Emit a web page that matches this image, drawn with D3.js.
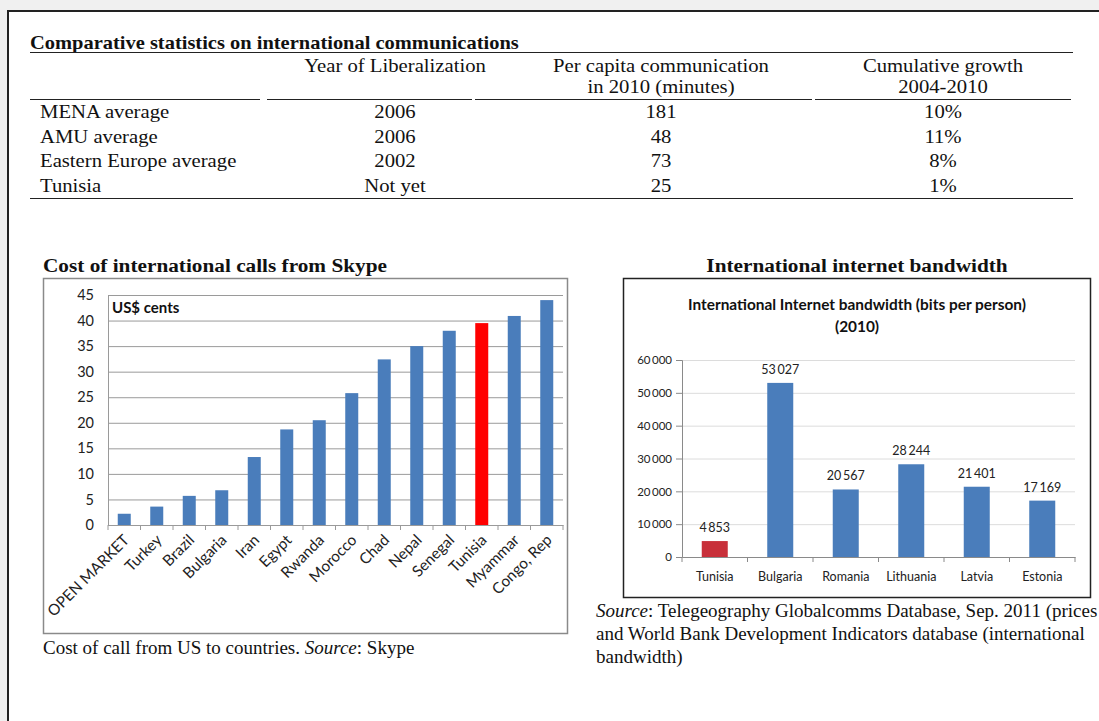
<!DOCTYPE html>
<html><head><meta charset="utf-8">
<script src="https://cdn.jsdelivr.net/npm/d3@7/dist/d3.min.js"></script>
<style>
html,body{margin:0;padding:0;background:#f0f0f0;}
svg{display:block;}
</style></head>
<body>
<svg id="c" width="1099" height="721"></svg>
<script>
// ---------- data ----------
const tableTitle = "Comparative statistics on international communications";
const rowLabels = ["MENA average", "AMU average", "Eastern Europe average", "Tunisia"];
const yearLib = ["2006", "2006", "2002", "Not yet"];
const perCapita = [181, 48, 73, 25];
const growth = ["10%", "11%", "8%", "1%"];

const skypeCountries = ["OPEN MARKET","Turkey","Brazil","Bulgaria","Iran","Egypt","Rwanda","Morocco","Chad","Nepal","Senegal","Tunisia","Myammar","Congo, Rep"];
const skypeCost = [2.2, 3.6, 5.7, 6.8, 13.3, 18.7, 20.5, 25.8, 32.4, 35.0, 38.0, 39.5, 40.9, 44.0];
const skypeTicks = [0,5,10,15,20,25,30,35,40,45];

const bwCountries = ["Tunisia","Bulgaria","Romania","Lithuania","Latvia","Estonia"];
const bwBits = [4853, 53027, 20567, 28244, 21401, 17169];
const bwTicks = [0,10000,20000,30000,40000,50000,60000];

const serif = "'Liberation Serif','Times New Roman',serif";
const sans = "Lato,'Open Sans',sans-serif";
const blue = "#4a7dbb", red = "#ff0000", red2 = "#c8303a";

const svg = d3.select("#c");

// stretched serif text helper
function stext(parent, x, y, str, size, opts) {
  opts = opts || {};
  const t = parent.append("text")
    .attr("transform", `translate(${x},${y}) scale(${opts.sx || 1},1)`)
    .attr("font-family", serif).attr("font-size", size).attr("fill", "#111")
    .attr("text-anchor", opts.anchor || "start");
  if (opts.bold) t.attr("font-weight", "bold");
  t.text(str);
  return t;
}

// page
svg.append("rect").attr("x",8).attr("y",11).attr("width",1200).attr("height",800).attr("fill","#fff");
svg.append("path").attr("d","M8,721V11H1099").attr("fill","none").attr("stroke","#222").attr("stroke-width",2);

// ---------- table ----------
const T = svg.append("g");
stext(T, 30, 49, tableTitle, 17.8, {bold:true, sx:1.15});
T.append("line").attr("x1",30).attr("x2",1073).attr("y1",52.5).attr("y2",52.5).attr("stroke","#222").attr("stroke-width",1.2);
const colX = [395, 661, 943];
const seg = [[30,260],[267,472],[475,812],[815,1071]];
seg.forEach(s=>T.append("line").attr("x1",s[0]).attr("x2",s[1]).attr("y1",99.5).attr("y2",99.5).attr("stroke","#222").attr("stroke-width",1.2));
T.append("line").attr("x1",30).attr("x2",1073).attr("y1",198.5).attr("y2",198.5).attr("stroke","#222").attr("stroke-width",1.2);
const hdr = [["Year of Liberalization"],["Per capita communication","in 2010 (minutes)"],["Cumulative growth","2004-2010"]];
hdr.forEach((lines,i)=>lines.forEach((l,j)=>stext(T, colX[i], 72+j*21, l, 18, {sx:1.15, anchor:"middle"})));
const rowY = d3.scaleBand().domain(rowLabels).range([100,198]);
rowLabels.forEach((r,i)=>{
  const y = rowY(r)+rowY.bandwidth()/2+6;
  stext(T, 40, y, r, 18, {sx:1.15});
  [yearLib[i], perCapita[i], growth[i]].forEach((v,k)=>stext(T, colX[k], y, v, 18, {sx:1.15, anchor:"middle"}));
});

// ---------- left chart ----------
const L = svg.append("g");
stext(L, 43, 272, "Cost of international calls from Skype", 19, {bold:true, sx:1.12});
L.append("rect").attr("x",43.5).attr("y",278.5).attr("width",524).attr("height",355).attr("fill","#fff").attr("stroke","#8a8a8a").attr("stroke-width",1.5);
const x1 = d3.scaleBand().domain(skypeCountries).range([108,563]);
const y1 = d3.scaleLinear().domain([0,45]).range([525,295]);
L.append("g").selectAll("line").data(skypeTicks).join("line")
 .attr("x1",108).attr("x2",563).attr("y1",d=>y1(d)+.5).attr("y2",d=>y1(d)+.5).attr("stroke","#9a9a9a").attr("stroke-width",1);
const ya1 = L.append("g").attr("transform","translate(108,0)").call(d3.axisLeft(y1).tickValues(skypeTicks).tickSize(0).tickPadding(14));
ya1.select(".domain").attr("stroke","#9a9a9a");
ya1.selectAll("text").attr("font-family",sans).attr("font-size",14.5).attr("fill","#222");
const xa1 = L.append("g").attr("transform","translate(0,525)").call(d3.axisBottom(x1).tickSize(0).tickFormat(""));
xa1.select(".domain").attr("stroke","#9a9a9a");
L.append("g").selectAll("line").data(skypeCountries.concat(["__end"])).join("line")
 .attr("x1",(d,i)=>108+i*x1.step()).attr("x2",(d,i)=>108+i*x1.step()).attr("y1",525).attr("y2",530).attr("stroke","#9a9a9a");
L.selectAll("rect.bar").data(skypeCountries).join("rect").attr("class","bar")
 .attr("x",d=>x1(d)+x1.bandwidth()/2-6.5).attr("width",13)
 .attr("y",(d,i)=>y1(skypeCost[i])).attr("height",(d,i)=>y1(0)-y1(skypeCost[i]))
 .attr("fill",d=>d==="Tunisia"?red:blue);
L.selectAll("text.xl").data(skypeCountries).join("text").attr("class","xl")
 .attr("transform",d=>`translate(${x1(d)+x1.bandwidth()/2+6},${541}) rotate(-45)`)
 .attr("text-anchor","end").attr("font-family",sans).attr("font-size",15.3).attr("fill","#222").text(d=>d);
L.append("text").attr("x",112).attr("y",313).attr("font-family",sans).attr("font-weight","bold").attr("font-size",15).attr("fill","#111").text("US$ cents");
const cap = L.append("text").attr("x",43).attr("y",654).attr("font-family",serif).attr("font-size",19).attr("fill","#111");
cap.append("tspan").text("Cost of call from US to countries. ");
cap.append("tspan").attr("font-style","italic").text("Source");
cap.append("tspan").text(": Skype");

// ---------- right chart ----------
const R = svg.append("g");
stext(R, 857, 272, "International internet bandwidth", 19, {bold:true, sx:1.12, anchor:"middle"});
R.append("rect").attr("x",623.5).attr("y",278.5).attr("width",467).attr("height",319).attr("fill","#fff").attr("stroke","#222").attr("stroke-width",1.5);
R.append("text").attr("x",857).attr("y",310).attr("text-anchor","middle").attr("font-family",sans).attr("font-weight","bold").attr("font-size",15.4).attr("fill","#111").text("International Internet bandwidth (bits per person)");
R.append("text").attr("x",857).attr("y",332).attr("text-anchor","middle").attr("font-family",sans).attr("font-weight","bold").attr("font-size",15.4).attr("fill","#111").text("(2010)");
const x2 = d3.scaleBand().domain(bwCountries).range([682,1075]);
const y2 = d3.scaleLinear().domain([0,60000]).range([557,360]);
R.append("g").selectAll("line").data(bwTicks.slice(1)).join("line")
 .attr("x1",682).attr("x2",1075).attr("y1",d=>y2(d)+.5).attr("y2",d=>y2(d)+.5).attr("stroke","#dcdcdc");
const fmt = d=>d3.format(",")(d).replace(/,/g,"\u2009");
const ya2 = R.append("g").attr("transform","translate(682,0)").call(d3.axisLeft(y2).tickValues(bwTicks).tickSize(6).tickPadding(4).tickFormat(fmt));
ya2.selectAll("line,.domain").attr("stroke","#8a8a8a");
ya2.selectAll("text").attr("font-family",sans).attr("font-size",11.5).attr("fill","#222");
const xa2 = R.append("g").attr("transform","translate(0,557)").call(d3.axisBottom(x2).tickSize(0).tickPadding(15));
xa2.select(".domain").attr("stroke","#8a8a8a");
xa2.selectAll("text").attr("font-family",sans).attr("font-size",12.5).attr("fill","#222");
R.append("g").selectAll("line").data(bwCountries.concat(["__end"])).join("line")
 .attr("x1",(d,i)=>682+i*x2.step()).attr("x2",(d,i)=>682+i*x2.step()).attr("y1",557).attr("y2",562).attr("stroke","#8a8a8a");
R.selectAll("rect.bar").data(bwCountries).join("rect").attr("class","bar")
 .attr("x",d=>x2(d)+x2.bandwidth()/2-13).attr("width",26)
 .attr("y",(d,i)=>y2(bwBits[i])).attr("height",(d,i)=>y2(0)-y2(bwBits[i]))
 .attr("fill",d=>d==="Tunisia"?red2:blue);
R.selectAll("text.vl").data(bwCountries).join("text").attr("class","vl")
 .attr("x",d=>x2(d)+x2.bandwidth()/2).attr("y",(d,i)=>y2(bwBits[i])-9)
 .attr("text-anchor","middle").attr("font-family",sans).attr("font-size",12.5).attr("fill","#222")
 .text((d,i)=>fmt(bwBits[i]));
const src = R.append("text").attr("font-family",serif).attr("font-size",19).attr("fill","#111");
src.append("tspan").attr("x",596).attr("y",617).attr("font-style","italic").text("Source");
src.append("tspan").text(": Telegeography Globalcomms Database, Sep. 2011 (prices");
src.append("tspan").attr("x",596).attr("y",640).text("and World Bank Development Indicators database (international");
src.append("tspan").attr("x",596).attr("y",663).text("bandwidth)");
</script>
</body></html>
